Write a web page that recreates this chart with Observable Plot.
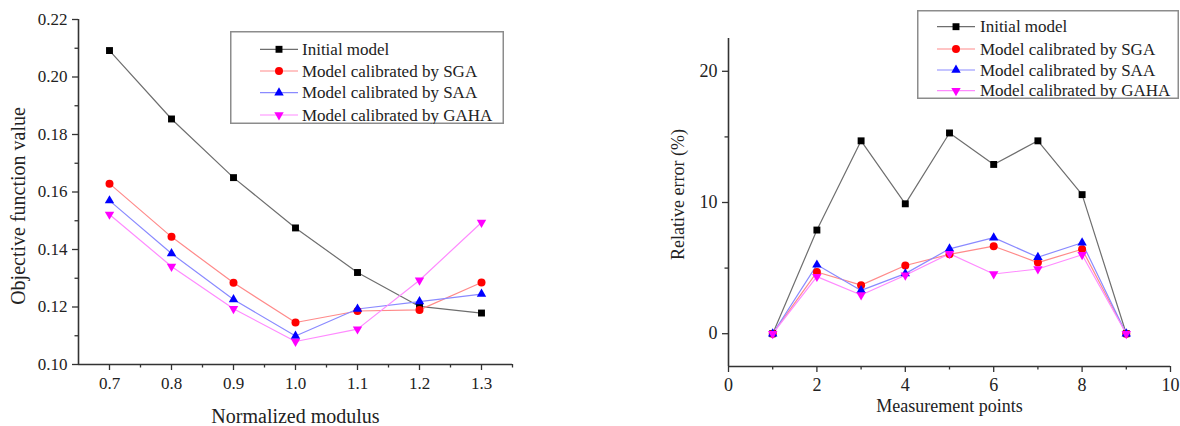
<!DOCTYPE html>
<html>
<head>
<meta charset="utf-8">
<script src="https://cdn.jsdelivr.net/npm/d3@7"></script>
<script src="https://cdn.jsdelivr.net/npm/@observablehq/plot@0.6"></script>
<style>
  body { margin: 0; background: #fff; }
  #wrap { position: relative; width: 1180px; height: 426px; overflow: hidden; background: #fff;
          font-family: "Liberation Serif", "Times New Roman", serif; }
  .pane { position: absolute; top: 0; }
  .legend { position: absolute; }
</style>
</head>
<body>
<div id="wrap">
  <div id="left" class="pane" style="left:0px"></div>
  <div id="right" class="pane" style="left:590px"></div>
</div>
<script>
// ---------- data ----------
const seriesNames = ["Initial model", "Model calibrated by SGA", "Model calibrated by SAA", "Model calibrated by GAHA"];

// Left chart: objective function value vs normalized modulus
const modulus = [0.7, 0.8, 0.9, 1.0, 1.1, 1.2, 1.3];
const objInitial = [0.2092, 0.1854, 0.1650, 0.1475, 0.1320, 0.1202, 0.1179];
const objSGA     = [0.1629, 0.1444, 0.1284, 0.1146, 0.1186, 0.1190, 0.1285];
const objSAA     = [0.1570, 0.1386, 0.1226, 0.1099, 0.1193, 0.1219, 0.1245];
const objGAHA    = [0.1522, 0.1341, 0.1194, 0.1080, 0.1123, 0.1293, 0.1494];
const leftXTicks = [0.7, 0.8, 0.9, 1.0, 1.1, 1.2, 1.3];
const leftXMinor = [0.75, 0.85, 0.95, 1.05, 1.15, 1.25, 1.35];
const leftYTicks = [0.10, 0.12, 0.14, 0.16, 0.18, 0.20, 0.22];
const leftYMinor = [0.11, 0.13, 0.15, 0.17, 0.19, 0.21];

// Right chart: relative error vs measurement points
const points = [1, 2, 3, 4, 5, 6, 7, 8, 9];
const errInitial = [0, 7.9, 14.7, 9.9, 15.3, 12.9, 14.7, 10.6, 0];
const errSGA     = [0, 4.7, 3.7, 5.2, 6.05, 6.67, 5.42, 6.44, 0];
const errSAA     = [0, 5.25, 3.3, 4.58, 6.47, 7.32, 5.83, 6.93, 0];
const errGAHA    = [0, 4.35, 2.95, 4.45, 6.1, 4.55, 4.93, 6.02, 0];
const rightXTicks = [0, 2, 4, 6, 8, 10];
const rightXMinor = [1, 3, 5, 7, 9];
const rightYTicks = [0, 10, 20];
const rightYMinor = [5, 15];

// ---------- styles ----------
const lineColors = ["#6e6e6e", "#ff8a8a", "#8a8aff", "#ff8aff"];
const dotColors = ["#000000", "#ff0000", "#0000ff", "#ff00ff"];
const symbols = ["square", "circle", "triangle", "triangle"];
const rotations = [0, 0, 0, 180];
const radii = [3.9, 4.0, 3.5, 3.5];
const axisColor = "#333";
const font = "'Liberation Serif', 'Times New Roman', serif";

function seriesMarks(xs, ysList) {
  const marks = [];
  ysList.forEach((ys, i) => {
    const rows = xs.map((x, j) => ({x, y: ys[j], s: seriesNames[i]}));
    marks.push(Plot.line(rows, {x: "x", y: "y", stroke: lineColors[i], strokeWidth: 1.2}));
  });
  ysList.forEach((ys, i) => {
    const rows = xs.map((x, j) => ({x, y: ys[j], s: seriesNames[i]}));
    marks.push(Plot.dot(rows, {x: "x", y: "y", symbol: symbols[i], fill: dotColors[i], stroke: "none", r: radii[i], rotate: rotations[i]}));
  });
  return marks;
}

// ---------- left chart ----------
const left = Plot.plot({
  width: 580, height: 426,
  marginLeft: 78, marginRight: 68, marginTop: 19, marginBottom: 62,
  style: {fontFamily: font, fontSize: "17px", color: "#222", background: "white", overflow: "visible"},
  x: {domain: [0.65, 1.35], axis: null},
  y: {domain: [0.10, 0.22], axis: null},
  marks: [
    Plot.axisY({ticks: leftYTicks, tickFormat: d3.format(".2f"), tickSize: 6, tickPadding: 5, stroke: axisColor, strokeWidth: 1.3, fontSize: 17, label: null}),
    Plot.axisY({ticks: leftYMinor, tickFormat: () => "", tickSize: 3.5, stroke: axisColor, strokeWidth: 1.3, label: null}),
    Plot.axisX({ticks: leftXTicks, tickFormat: d3.format(".1f"), tickSize: 6, tickPadding: 6, stroke: axisColor, strokeWidth: 1.3, fontSize: 17, label: null}),
    Plot.axisX({ticks: leftXMinor, tickFormat: () => "", tickSize: 3.5, stroke: axisColor, strokeWidth: 1.3, label: null}),
    Plot.ruleX([0.65], {stroke: axisColor, strokeWidth: 1.6}),
    Plot.ruleY([0.10], {stroke: axisColor, strokeWidth: 1.6}),
    ...seriesMarks(modulus, [objInitial, objSGA, objSAA, objGAHA]),
    Plot.text(["Normalized modulus"], {text: d => d, frameAnchor: "bottom", textAnchor: "middle", lineAnchor: "middle", dy: 52, fontSize: 20, fill: "#222"}),
    Plot.text(["Objective function value"], {text: d => d, frameAnchor: "left", textAnchor: "middle", lineAnchor: "middle", rotate: -90, dx: -60, dy: 14, fontSize: 20, fill: "#222"})
  ]
});
document.getElementById("left").appendChild(left);

// ---------- right chart ----------
const right = Plot.plot({
  width: 590, height: 426,
  marginLeft: 138, marginRight: 10, marginTop: 38, marginBottom: 60,
  style: {fontFamily: font, fontSize: "18px", color: "#222", background: "white", overflow: "visible"},
  x: {domain: [0, 10], axis: null},
  y: {domain: [-2.5, 22.5], axis: null},
  marks: [
    Plot.axisY({ticks: rightYTicks, tickFormat: d3.format("d"), tickSize: 6, tickPadding: 5, stroke: axisColor, strokeWidth: 1.3, fontSize: 18, label: null}),
    Plot.axisY({ticks: rightYMinor, tickFormat: () => "", tickSize: 3.5, stroke: axisColor, strokeWidth: 1.3, label: null}),
    Plot.axisX({ticks: rightXTicks, tickFormat: d3.format("d"), tickSize: 6, tickPadding: 6, stroke: axisColor, strokeWidth: 1.3, fontSize: 18, label: null}),
    Plot.axisX({ticks: rightXMinor, tickFormat: () => "", tickSize: 3.5, stroke: axisColor, strokeWidth: 1.3, label: null}),
    Plot.ruleX([0], {stroke: axisColor, strokeWidth: 1.6}),
    Plot.ruleY([-2.5], {stroke: axisColor, strokeWidth: 1.6}),
    ...seriesMarks(points, [errInitial, errSGA, errSAA, errGAHA]),
    Plot.text(["Measurement points"], {text: d => d, frameAnchor: "bottom", textAnchor: "middle", lineAnchor: "middle", dy: 40, fontSize: 18, fill: "#222"}),
    Plot.text(["Relative error (%)"], {text: d => d, frameAnchor: "left", textAnchor: "middle", lineAnchor: "middle", rotate: -90, dx: -50, dy: -8, fontSize: 18, fill: "#222"})
  ]
});
document.getElementById("right").appendChild(right);

// ---------- legends ----------
function legend(box) {
  const svg = d3.select("#wrap").append("svg")
    .attr("class", "legend")
    .style("left", box.left + "px").style("top", box.top + "px")
    .attr("width", box.width).attr("height", box.height);
  svg.append("rect").attr("x", 0.75).attr("y", 0.75)
    .attr("width", box.width - 1.5).attr("height", box.height - 1.5)
    .attr("fill", "white").attr("stroke", "#8c8c8c").attr("stroke-width", 1.5);
  const symMap = {square: d3.symbolSquare, circle: d3.symbolCircle, triangle: d3.symbolTriangle};
  seriesNames.forEach((name, i) => {
    const y = box.rows[i];
    svg.append("line").attr("x1", box.lx1).attr("x2", box.lx2).attr("y1", y).attr("y2", y)
      .attr("stroke", lineColors[i]).attr("stroke-width", 1.2);
    svg.append("path")
      .attr("d", d3.symbol(symMap[symbols[i]], Math.PI * radii[i] * radii[i])())
      .attr("transform", `translate(${(box.lx1 + box.lx2) / 2},${y}) rotate(${rotations[i]})`)
      .attr("fill", dotColors[i]);
    svg.append("text").attr("x", box.tx).attr("y", y).attr("dy", "0.34em")
      .attr("font-family", font).attr("font-size", 17).attr("fill", "#222").text(name);
  });
}
legend({left: 230, top: 31, width: 274, height: 93, rows: [18.3, 40, 61.7, 84], lx1: 30, lx2: 68, tx: 72});
legend({left: 917, top: 10, width: 262, height: 89, rows: [16.7, 39, 60, 80.7], lx1: 20, lx2: 58, tx: 63});
</script>
</body>
</html>
